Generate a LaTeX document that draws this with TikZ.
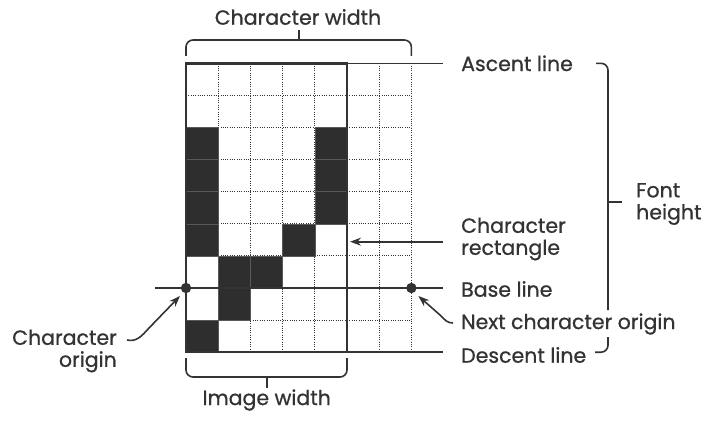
\documentclass[tikz,border=0pt]{standalone}
\usepackage{fontspec}
\setmainfont{Poppins}
\newfontfamily\lblfont{Poppins}[FakeBold=0.8]
\usetikzlibrary{arrows.meta,calc}
\definecolor{ink}{HTML}{333333}
\definecolor{cellc}{HTML}{2E2E2E}
\tikzset{
  lbl/.style={text=ink, font=\lblfont\fontsize{20.5}{22}\selectfont, inner sep=0pt},
  gridline/.style={draw=ink, line width=0.9pt, dash pattern=on 0.9pt off 1.4pt},
  boldline/.style={draw=ink, line width=2.4pt},
  rule/.style={draw=ink, line width=1.6pt},
  brace/.style={draw=ink, line width=1.6pt, rounded corners=7pt},
  arr/.style={draw=ink, line width=1.6pt, -{Stealth[length=11pt,width=8pt]}},
  cell/.style={fill=cellc, draw=black!65, line width=0.5pt}
}
\begin{document}
\begin{tikzpicture}[x=1pt,y=-1pt]
\useasboundingbox (0,0) rectangle (706,420);
\def\cw{32.2}\def\ch{32.1}\def\gx{186}\def\gy{63.3}
% dotted grid
\foreach \i in {1,...,4}
  \draw[gridline] ({\gx+\i*\cw},\gy) -- ({\gx+\i*\cw},{\gy+9*\ch});
\foreach \i in {6,7}
  \draw[gridline] ({\gx+\i*\cw},\gy) -- ({\gx+\i*\cw},{\gy+9*\ch});
\foreach \j in {1,...,6,8}
  \draw[gridline] (\gx,{\gy+\j*\ch}) -- ({\gx+7*\cw},{\gy+\j*\ch});
% filled cells (col,row)
\foreach \c/\r in {0/2,4/2,0/3,4/3,0/4,4/4,0/5,3/5,1/6,2/6,1/7,0/8}
  \path[cell] ({\gx+\c*\cw},{\gy+\r*\ch}) rectangle ({\gx+(\c+1)*\cw},{\gy+(\r+1)*\ch});
% key points
\coordinate (tl) at (\gx,\gy);
\coordinate (br) at ({\gx+5*\cw},{\gy+9*\ch});
\coordinate (orig) at (\gx,{\gy+7*\ch});
\coordinate (next) at ({\gx+7*\cw},{\gy+7*\ch});
\coordinate (ascend) at (443,\gy);
\coordinate (descend) at (443,{\gy+9*\ch});
\coordinate (basestart) at (155,{\gy+7*\ch});
\coordinate (baseend) at (443,{\gy+7*\ch});
% character rectangle and lines
\draw[boldline] (tl) rectangle (br);
\draw[rule] (tl) -- (ascend);
\draw[rule] (br) -- (descend);
\draw[rule] (basestart) -- (baseend);
\fill[ink] (orig) circle (5.2);
\fill[ink] (next) circle (5.2);
% labels
\node[lbl] (cwid) at (298,17) {Character width};
\node[lbl] (iwid) at (266.7,400) {Image width};
\node[lbl, anchor=west] (asc) at (461,63.3) {Ascent line};
\node[lbl, anchor=west, align=left] (crect) at (461,239) {Character\\rectangle};
\node[lbl, anchor=west] (base) at (461,289) {Base line};
\node[lbl, anchor=west] (nco) at (461,324) {Next character origin};
\node[lbl, anchor=west] (desc) at (461,355) {Descent line};
\node[lbl, anchor=west, align=left] (fh) at (636,204) {Font\\height};
\node[lbl, anchor=east, align=right] (co) at (117,351) {Character\\origin};
% braces
\draw[brace] (\gx,56) -- (\gx,40) -- ({\gx+7*\cw},40) -- ({\gx+7*\cw},56);
\draw[rule] (299,40) -- (299,30);
\draw[brace] (\gx,358) -- (\gx,377) -- ({\gx+5*\cw},377) -- ({\gx+5*\cw},358);
\draw[rule] (266.7,377) -- (266.7,388);
\draw[brace] (596,63.3) -- (608,63.3) -- (608,310);
\draw[brace] (608,337) -- (608,352.2) -- (595,352.2);
\draw[rule] (608,202) -- (622,202);
% arrows
\coordinate (crtail) at (443,241.7);
\coordinate (crtip) at (350,241.7);
\draw[arr] (crtail) -- (crtip);
\coordinate (cotail) at (127,340);
\coordinate (cotip) at ($(orig)+(-6,8)$);
\draw[arr] (cotail) .. controls (136,342) and (141,337) .. (149,328) -- (cotip);
\coordinate (ncotail) at (453,323);
\coordinate (ncotip) at ($(next)+(7,8)$);
\draw[arr] (ncotail) .. controls (447,323) and (445,320) .. (440,315) -- (ncotip);
\end{tikzpicture}
\end{document}
